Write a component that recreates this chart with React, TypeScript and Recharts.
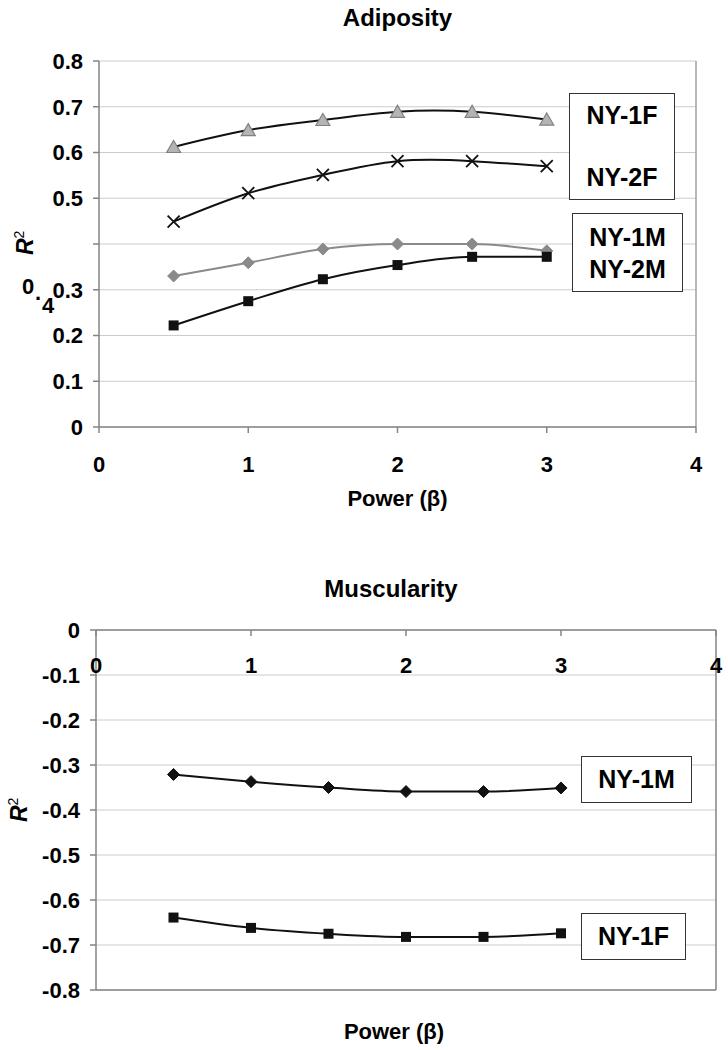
import React from "react";
import { LineChart, Line, XAxis, YAxis, CartesianGrid, ReferenceLine } from "recharts";

const betaValues = [0.5, 1, 1.5, 2, 2.5, 3];
const xTicks = [0, 1, 2, 3, 4];

// Adiposity
const ny1fAdiposity = [0.612, 0.649, 0.671, 0.689, 0.689, 0.672];
const ny2fAdiposity = [0.449, 0.511, 0.551, 0.581, 0.581, 0.57];
const ny1mAdiposity = [0.33, 0.359, 0.389, 0.4, 0.4, 0.385];
const ny2mAdiposity = [0.222, 0.275, 0.323, 0.354, 0.372, 0.372];
const adiposityTicks = [0, 0.1, 0.2, 0.3, 0.4, 0.5, 0.6, 0.7, 0.8];

// Muscularity
const ny1mMuscularity = [-0.321, -0.337, -0.35, -0.359, -0.359, -0.351];
const ny1fMuscularity = [-0.639, -0.662, -0.675, -0.682, -0.682, -0.674];
const muscularityTicks = [0, -0.1, -0.2, -0.3, -0.4, -0.5, -0.6, -0.7, -0.8];

const adiposityData = betaValues.map((beta, i) => ({
  beta,
  ny1f: ny1fAdiposity[i],
  ny2f: ny2fAdiposity[i],
  ny1m: ny1mAdiposity[i],
  ny2m: ny2mAdiposity[i]
}));

const muscularityData = betaValues.map((beta, i) => ({
  beta,
  ny1m: ny1mMuscularity[i],
  ny1f: ny1fMuscularity[i]
}));

const font = '"Liberation Sans", Arial, Helvetica, sans-serif';
const axisGray = "#858585";
const gridGray = "#cccccc";
const labelStyle: React.CSSProperties = { fontFamily: font, fontSize: 22, fontWeight: "bold" };

const Triangle = ({ cx, cy }: any) => (
  <path d={`M${cx},${cy - 6.5} L${cx + 7},${cy + 5.5} L${cx - 7},${cy + 5.5} Z`} fill="#b4b4b4" stroke="#808080" strokeWidth={1.2} />
);
const Cross = ({ cx, cy }: any) => (
  <path d={`M${cx - 6},${cy - 6} L${cx + 6},${cy + 6} M${cx + 6},${cy - 6} L${cx - 6},${cy + 6}`} stroke="#111" strokeWidth={1.8} fill="none" />
);
const Diamond = ({ cx, cy, fill }: any) => (
  <path d={`M${cx},${cy - 6} L${cx + 6},${cy} L${cx},${cy + 6} L${cx - 6},${cy} Z`} fill={fill} stroke={fill} />
);
const Square = ({ cx, cy }: any) => <rect x={cx - 5} y={cy - 5} width={10} height={10} fill="#111" />;

// x labels sit under their tick (below the line in both charts)
function XTick({ x, y, payload, dy }: any) {
  return (
    <text x={x} y={y} dy={dy} textAnchor="middle" style={labelStyle} fill="#000">
      {payload.value}
    </text>
  );
}

function YTick({ x, y, payload }: any) {
  return (
    <text x={x} y={y} dy="0.36em" textAnchor="end" style={labelStyle} fill="#000">
      {payload.value}
    </text>
  );
}

function AdiposityYTick(props: any) {
  const { x, y, payload } = props;
  if (payload.value === 0.4) {
    // the 0.4 label in the original slipped out of place
    return (
      <g style={labelStyle} fill="#000">
        <text x={x - 55} y={y + 50} textAnchor="middle">0</text>
        <text x={x - 45} y={y + 56} textAnchor="middle">.</text>
        <text x={x - 35} y={y + 69} textAnchor="middle">4</text>
      </g>
    );
  }
  return <YTick {...props} />;
}

const boxStyle: React.CSSProperties = {
  position: "absolute",
  border: "1.5px solid #333",
  background: "#fff",
  boxSizing: "border-box",
  fontFamily: font,
  fontWeight: "bold",
  fontSize: 25,
  color: "#000",
  textAlign: "center"
};

const textStyle: React.CSSProperties = {
  position: "absolute",
  fontFamily: font,
  fontWeight: "bold",
  color: "#000",
  whiteSpace: "nowrap"
};

function RSquared({ left, top }: { left: number; top: number }) {
  return (
    <div style={{ ...textStyle, left, top, fontSize: 23, transform: "rotate(-90deg)", transformOrigin: "center" }}>
      <i>R</i>
      <sup style={{ fontSize: 14, fontWeight: "normal" }}>2</sup>
    </div>
  );
}

export default function App() {
  return (
    <div style={{ position: "absolute", left: 0, top: 0, width: 728, height: 1050, background: "#fff" }}>
      <div style={{ ...textStyle, left: 0, width: 795, top: 4, fontSize: 24, textAlign: "center" }}>Adiposity</div>

      <div style={{ position: "absolute", left: 0, top: 0 }}>
        <LineChart width={728} height={520} data={adiposityData} margin={{ top: 61, right: 32, left: 39, bottom: 43 }}>
          <CartesianGrid horizontal vertical={false} stroke={gridGray} />
          <XAxis
            dataKey="beta"
            type="number"
            domain={[0, 4]}
            ticks={xTicks}
            height={50}
            stroke={axisGray}
            strokeWidth={1.5}
            tickSize={6}
            tickMargin={0}
            tick={<XTick dy={39} />}
          />
          <YAxis
            type="number"
            domain={[0, 0.8]}
            ticks={adiposityTicks}
            width={60}
            stroke={axisGray}
            strokeWidth={1.5}
            tickSize={6}
            tickMargin={10}
            tick={<AdiposityYTick />}
          />
          <ReferenceLine x={4} stroke="#a0a0a0" strokeWidth={1.5} />
          <Line type="natural" dataKey="ny1f" stroke="#111" strokeWidth={2} dot={<Triangle />} isAnimationActive={false} />
          <Line type="natural" dataKey="ny2f" stroke="#111" strokeWidth={2} dot={<Cross />} isAnimationActive={false} />
          <Line type="monotone" dataKey="ny1m" stroke="#8a8a8a" strokeWidth={2} dot={<Diamond fill="#8a8a8a" />} isAnimationActive={false} />
          <Line type="monotone" dataKey="ny2m" stroke="#111" strokeWidth={2} dot={<Square />} isAnimationActive={false} />
        </LineChart>
      </div>

      <RSquared left={13} top={229} />
      <div style={{ ...textStyle, left: 0, width: 795, top: 486, fontSize: 22, textAlign: "center" }}>Power (β)</div>

      <div style={{ ...boxStyle, left: 569, top: 93, width: 106, height: 107 }}>
        <div style={{ position: "absolute", left: 0, right: 0, top: 7 }}>NY-1F</div>
        <div style={{ position: "absolute", left: 0, right: 0, top: 69 }}>NY-2F</div>
      </div>
      <div style={{ ...boxStyle, left: 572, top: 213, width: 111, height: 79, lineHeight: "32px", paddingTop: 7 }}>
        <div>NY-1M</div>
        <div>NY-2M</div>
      </div>

      <div style={{ ...textStyle, left: 0, width: 782, top: 575, fontSize: 24, textAlign: "center" }}>Muscularity</div>

      <div style={{ position: "absolute", left: 0, top: 560 }}>
        <LineChart width={728} height={490} data={muscularityData} margin={{ top: 70, right: 12, left: 36, bottom: 60 }}>
          <CartesianGrid horizontal vertical={false} stroke={gridGray} />
          <XAxis
            dataKey="beta"
            type="number"
            orientation="top"
            mirror
            domain={[0, 4]}
            ticks={xTicks}
            height={30}
            stroke={axisGray}
            strokeWidth={1.5}
            tickSize={6}
            tickMargin={0}
            tick={<XTick dy={37} />}
          />
          <YAxis
            type="number"
            domain={[-0.8, 0]}
            ticks={muscularityTicks}
            width={60}
            stroke={axisGray}
            strokeWidth={1.5}
            tickSize={6}
            tickMargin={10}
            tick={<YTick />}
          />
          <ReferenceLine x={4} stroke={axisGray} strokeWidth={1.5} />
          <ReferenceLine y={-0.8} stroke={axisGray} strokeWidth={1.5} />
          <Line type="monotone" dataKey="ny1m" stroke="#111" strokeWidth={2} dot={<Diamond fill="#111" />} isAnimationActive={false} />
          <Line type="monotone" dataKey="ny1f" stroke="#111" strokeWidth={2} dot={<Square />} isAnimationActive={false} />
        </LineChart>
      </div>

      <RSquared left={7} top={796} />
      <div style={{ ...textStyle, left: 0, width: 788, top: 1019, fontSize: 22, textAlign: "center" }}>Power (β)</div>

      <div style={{ ...boxStyle, left: 581, top: 756, width: 111, height: 47, lineHeight: "44px" }}>NY-1M</div>
      <div style={{ ...boxStyle, left: 581, top: 913, width: 105, height: 47, lineHeight: "44px" }}>NY-1F</div>
    </div>
  );
}
